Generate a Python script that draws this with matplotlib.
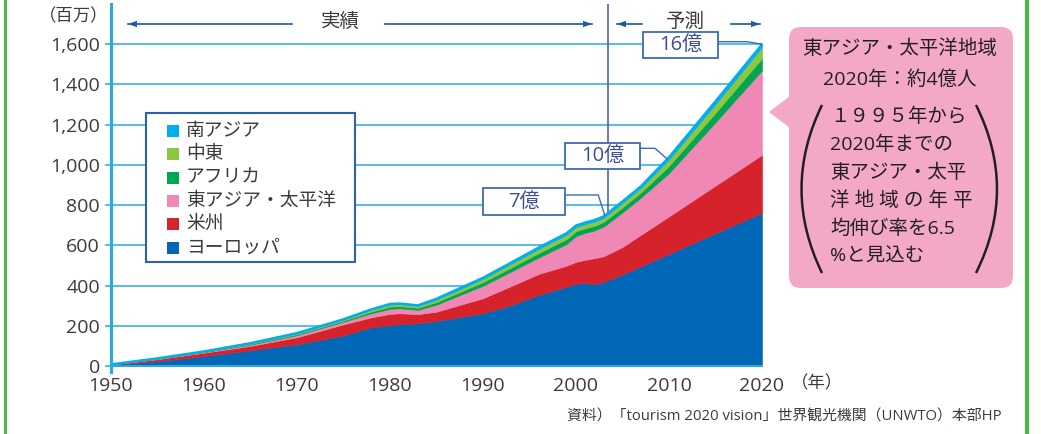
import numpy as np
import matplotlib
matplotlib.use("Agg")
import matplotlib.pyplot as plt
from matplotlib.patches import FancyBboxPatch, Rectangle, Polygon, PathPatch
from matplotlib.path import Path
from matplotlib.lines import Line2D
from matplotlib.transforms import Affine2D

plt.rcParams['font.family'] = ['Open Sans', 'Noto Sans CJK JP', 'DejaVu Sans']

# ---- data (millions of international tourist arrivals) ----
years = [1950, 1955, 1960, 1965, 1970, 1975, 1978, 1980, 1981, 1983, 1985, 1990,
         1993, 1996, 1999, 2000, 2001, 2002, 2003, 2005, 2007, 2010, 2015, 2020]
europe = [5, 24, 49, 78, 108, 152, 192, 203, 207, 212, 224, 262,
          302, 353, 394, 408, 414, 406, 418, 455, 496, 557, 660, 762]
americas = [2, 10, 17, 22, 35, 55, 50, 56, 55, 46, 46, 75,
            95, 105, 105, 110, 114, 130, 128, 137, 157, 187, 237, 288]
east_asia_pacific = [0.5, 1.5, 3, 6, 10, 13, 20, 25, 25, 21, 35, 62,
                     72, 82, 108, 128, 134, 138, 148, 172, 185, 215, 315, 420]
africa = [0.5, 1.3, 1.8, 3.5, 5, 6, 9, 11, 11, 10.5, 13, 18,
          20, 22, 24, 24, 23, 23, 23, 25, 26, 36, 47, 60]
middle_east = [0.35, 1.2, 1.6, 3.3, 4.5, 5, 8, 10, 9.5, 9, 12, 16,
               18, 20, 22, 21, 21, 21, 20, 22, 23, 32, 43, 55]
south_asia = [0.15, 0.5, 0.6, 1.2, 1.5, 2, 3, 4, 3.5, 3.5, 5, 6,
              7, 8, 8, 8, 8, 8, 8, 8, 8, 12, 15, 15]

region_names = ["ヨーロッパ", "米州", "東アジア・太平洋", "アフリカ", "中東", "南アジア"]
region_colors = ["#0068b7", "#d6222a", "#f088b6", "#00a651", "#8dc63f", "#00aeef"]

y_ticks = [0, 200, 400, 600, 800, 1000, 1200, 1400, 1600]
y_tick_labels = ["0", "200", "400", "600", "800", "1,000", "1,200", "1,400", "1,600"]
x_ticks = [1950, 1960, 1970, 1980, 1990, 2000, 2010, 2020]

forecast_start = 2003.4
milestones = [(2020.0, "16億"), (2009.8, "10億"), (2003.1, "7億")]

bubble_title = ["東アジア・太平洋地域", "2020年：約4億人"]
bubble_note = ["１９９５年から", "2020年までの", "東アジア・太平", "洋 地 域 の 年 平",
               "均伸び率を6.5", "%と見込む"]
source_text = "資料）「tourism 2020 vision」世界観光機関（UNWTO）本部HP"

# ---- figure ----
W, H = 1041, 434
fig = plt.figure(figsize=(W / 100, H / 100), dpi=100)
fig.patch.set_facecolor("white")
# pixel coordinates measured from the top-left corner
PX = Affine2D().scale(1 / W, -1 / H).translate(0, 1) + fig.transFigure

ax = fig.add_axes([111 / W, 68 / H, 651 / W, 362 / H])
ax.set_xlim(1950, 2020)
ax.set_ylim(0, 1800)

GRID = "#29abe2"
TXT = "#3e3a39"

for v in y_ticks[1:]:
    ax.axhline(v, color=GRID, lw=1.1, zorder=1)
ax.axvline(forecast_start, color="#4756a5", lw=1.1, zorder=2)

series = [europe, americas, east_asia_pacific, africa, middle_east, south_asia]
polys = ax.stackplot(years, *series, colors=region_colors, zorder=3,
                     edgecolor="face", linewidth=0.4)
total = np.sum(np.array(series, dtype=float), axis=0)
ax.plot(years, total, color="#00aeef", lw=1.6, zorder=4)

for s in ["top", "right"]:
    ax.spines[s].set_visible(False)
ax.spines["left"].set_color(GRID)
ax.spines["left"].set_linewidth(2.2)
ax.spines["bottom"].set_color(GRID)
ax.spines["bottom"].set_linewidth(1.4)
ax.spines["left"].set_zorder(5)
ax.spines["bottom"].set_zorder(5)

ax.set_yticks(y_ticks)
ax.set_yticklabels(y_tick_labels)
ax.set_xticks(x_ticks)
ax.set_xticklabels([str(x) for x in x_ticks])
ax.tick_params(axis="y", length=4, width=1.1, color=GRID, pad=4,
               labelsize=14, labelcolor=TXT)
ax.tick_params(axis="x", length=0, pad=8, labelsize=14, labelcolor=TXT)

# short stub of the y axis below the baseline
fig.add_artist(Line2D([111, 111], [366, 372], transform=PX, color=GRID, lw=2.2))

# axis unit labels
fig.text(74, 17, "（百万）", transform=PX, ha="center", va="center",
         fontsize=12.5, color=TXT)
fig.text(817, 384, "（年）", transform=PX, ha="center", va="center",
         fontsize=12.5, color=TXT)

# ---- period arrows ----
ARW = "#1b5aa6"


def arrow(x0, x1, y):
    fig.add_artist(Line2D([x0, x1], [y, y], transform=PX, color=ARW, lw=1.2))
    d = 1 if x1 > x0 else -1
    fig.add_artist(Polygon([(x1, y), (x1 - d * 9, y - 3.2), (x1 - d * 9, y + 3.2)],
                           closed=True, transform=PX, color=ARW, lw=0))


arrow(292, 128, 24)
arrow(385, 592, 24)
arrow(642, 617, 24)
arrow(731, 760, 24)
fig.text(340, 22, "実績", transform=PX, ha="center", va="center", fontsize=14, color=TXT)
fig.text(685, 22, "予測", transform=PX, ha="center", va="center", fontsize=14, color=TXT)

# ---- milestone labels ----
BOX = "#3d6bb3"
label_boxes = [(642.7, 31.7, 718.3, 58.3, 41.7, 747),
               (565, 142.7, 640, 169.3, 148.3, 655),
               (483, 188.3, 565, 215, 195, 598.3)]
for (yr, txt), (bx0, by0, bx1, by1, ly, lx) in zip(milestones, label_boxes):
    val = np.interp(yr, years, total)
    end = PX.inverted().transform(ax.transData.transform((yr, val)))
    fig.add_artist(Line2D([bx1, lx, end[0]], [ly, ly, end[1]], transform=PX,
                          color=BOX, lw=1.0, zorder=6))
    fig.add_artist(Rectangle((bx0, by0), bx1 - bx0, by1 - by0, transform=PX,
                             facecolor="white", edgecolor=BOX, lw=1.3, zorder=7))
    fig.text((bx0 + bx1) / 2, (by0 + by1) / 2, txt, transform=PX, ha="center",
             va="center", fontsize=14.5, color="#3e4c9c", zorder=8)

# ---- legend ----
fig.add_artist(Rectangle((146, 112.7), 209, 149.6, transform=PX, facecolor="white",
                         edgecolor="#2a62ad", lw=1.5, zorder=6))
for i, (name, col) in enumerate(zip(region_names[::-1], region_colors[::-1])):
    yc = 131 + i * 23.3
    fig.add_artist(Rectangle((166.7, yc - 6), 12, 12, transform=PX, facecolor=col,
                             edgecolor="none", zorder=7))
    fig.text(186, yc, name, transform=PX, ha="left", va="center", fontsize=13.5,
             color=TXT, zorder=8)

# ---- callout bubble ----
PINK = "#f4a8c8"
fig.add_artist(FancyBboxPatch((789, 27), 224, 261, transform=PX,
                              boxstyle="round,pad=0,rounding_size=12",
                              facecolor=PINK, edgecolor="none", zorder=6))
fig.add_artist(Polygon([(790, 96), (769, 112), (790, 128)], closed=True,
                       transform=PX, facecolor=PINK, edgecolor="none", zorder=6))
fig.text(900, 49, bubble_title[0], transform=PX, ha="center", va="center",
         fontsize=14, color="#231f20", zorder=8)
fig.text(900, 80, bubble_title[1], transform=PX, ha="center", va="center",
         fontsize=14, color="#231f20", zorder=8)
for i, line in enumerate(bubble_note):
    fig.text(830, 116.7 + i * 28, line, transform=PX, ha="left", va="center",
             fontsize=14, color="#231f20", zorder=8)
for xe, xc in [(822, 781), (976, 1018)]:
    p = Path([(xe, 105), (xc, 189), (xe, 273)], [Path.MOVETO, Path.CURVE3, Path.CURVE3])
    fig.add_artist(PathPatch(p, transform=PX, facecolor="none", edgecolor="#231f20",
                             lw=1.8, zorder=8))

# ---- source ----
fig.text(1002, 417, source_text, transform=PX, ha="right", va="center",
         fontsize=10.7, color=TXT)

# ---- frame ----
fig.add_artist(Line2D([5, 5], [0, H], transform=PX, color="#4db848", lw=2.2))
fig.add_artist(Line2D([1027, 1027], [0, H], transform=PX, color="#4db848", lw=3.0))

fig.savefig("out.png", dpi=100)
